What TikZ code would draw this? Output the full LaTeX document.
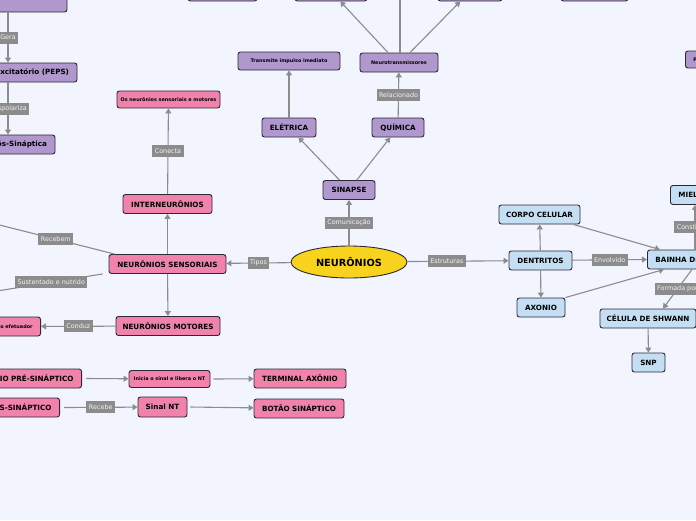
\documentclass[tikz,border=0pt]{standalone}
\usepackage{fontspec}
\newfontfamily\mapfont{DejaVu Sans}
\usepackage{tikz}
\usetikzlibrary{arrows.meta,shapes.geometric}
\usepackage{xcolor}
\definecolor{fundo}{RGB}{242,245,254}
\definecolor{roxo}{RGB}{176,152,206}
\definecolor{rosa}{RGB}{240,130,172}
\definecolor{azul}{RGB}{196,223,244}
\definecolor{ouro}{RGB}{247,211,30}
\definecolor{fio}{RGB}{140,140,140}
\definecolor{borda}{RGB}{45,40,50}

\begin{document}
\begin{tikzpicture}[x=1pt,y=-1pt,
  caixa/.style={draw=borda,line width=0.9pt,rounded corners=2.5pt,minimum height=19pt,
    inner xsep=2pt,inner ysep=2pt,font=\mapfont\bfseries\fontsize{7.2}{8.5}\selectfont},
  caixaroxa/.style={caixa,fill=roxo},
  caixarosa/.style={caixa,fill=rosa},
  caixaazul/.style={caixa,fill=azul},
  miuda/.style={font=\mapfont\bfseries\fontsize{4.9}{5.5}\selectfont},
  rotulo/.style={fill=fio,text=white!90!fio,inner xsep=2.5pt,inner ysep=1.5pt,
    minimum height=12pt,font=\mapfont\fontsize{6.4}{7}\selectfont},
  liga/.style={draw=fio,line width=1.1pt,-{Triangle[width=6pt,length=5pt]}}]
  \useasboundingbox (0,0) rectangle (696,520);
  \fill[fundo] (0,0) rectangle (696,520);
  \clip (0,0) rectangle (696,520);

  % centro
  \node[ellipse,draw=borda,line width=0.9pt,fill=ouro,minimum width=116pt,minimum height=32pt,
    font=\mapfont\bfseries\fontsize{9.8}{11}\selectfont] (neur) at (349,262) {NEURÔNIOS};

  % sinapse
  \node[caixaroxa,minimum width=52pt] (sinapse) at (349,190) {SINAPSE};
  \node[caixaroxa,minimum width=54pt] (eletrica) at (289,127.5) {ELÉTRICA};
  \node[caixaroxa,minimum width=52pt] (quimica) at (398,127.5) {QUÍMICA};
  \node[caixaroxa,miuda,minimum width=102pt,minimum height=18pt] (imediato) at (289,61) {Transmite impulso imediato};
  \node[caixaroxa,miuda,minimum width=78pt] (ntrans) at (399,62.5) {Neurotransmissores};
  \node[caixaroxa,minimum width=69pt] (topoa) at (222.5,-8.5) {};
  \node[caixaroxa,minimum width=72pt] (topob) at (331,-8.5) {};
  \node[caixaroxa,minimum width=64pt] (topoc) at (470,-8.5) {};
  \node[caixaroxa,minimum width=67pt] (topod) at (594.5,-8.5) {};
  \coordinate (topomeio) at (400,-20);
  \node[caixaroxa,miuda,anchor=west,inner xsep=8pt,minimum height=17pt] (pcanto) at (685,59.5) {P};

  \draw[liga] (neur) -- node[rotulo] (lcomunic) {Comunicação} (sinapse);
  \draw[liga] (sinapse) -- (eletrica);
  \draw[liga] (sinapse) -- (quimica);
  \draw[liga] (eletrica) -- (imediato);
  \draw[liga] (quimica) -- node[rotulo] (lrelac) {Relacionado} (ntrans);
  \draw[liga] ([xshift=-11pt]ntrans.north) -- (topob);
  \draw[liga,-] ([xshift=1pt]ntrans.north) -- (topomeio);
  \draw[liga] ([xshift=11pt]ntrans.north) -- (topoc);

  % canto esquerdo
  \node[caixaroxa,minimum width=118pt] (pesq) at (8,2.5) {};
  \node[caixaroxa,text width=122pt,align=right,inner xsep=8pt] (peps) at (8,72.5) {sináptico excitatório (PEPS)};
  \node[caixaroxa,text width=78pt,align=right,inner xsep=8pt] (membrana) at (8,144.5) {Pós-Sináptica};
  \draw[liga] (pesq) -- node[rotulo] (lgera) {Gera} (peps);
  \draw[liga] (peps) -- node[rotulo] (ldesp) {Despolariza} (membrana);

  % tipos
  \node[caixarosa,minimum width=117pt] (sens) at (167.5,264) {NEURÔNIOS SENSORIAIS};
  \node[caixarosa,minimum width=89pt] (inter) at (167.5,204) {INTERNEURÔNIOS};
  \node[caixarosa,miuda,minimum width=103pt,minimum height=17pt] (conecta) at (168.5,99.5) {Os neurônios sensoriais e motores};
  \node[caixarosa,minimum width=104pt] (motores) at (168,326) {NEURÔNIOS MOTORES};
  \node[caixarosa,miuda,text width=60pt,align=right,inner xsep=8pt,anchor=east] (efetuador) at (41,326.5) {Órgão efetuador};
  \coordinate (recebem) at (-40,215);
  \coordinate (sustento) at (-40,297);

  \draw[liga] (neur) -- node[rotulo] (ltipos) {Tipos} (sens);
  \draw[liga] (sens) -- (inter);
  \draw[liga] (inter) -- node[rotulo] (lconecta) {Conecta} (conecta);
  \draw[liga] (sens) -- (motores);
  \draw[liga] (motores) -- node[rotulo] (lconduz) {Conduz} (efetuador);
  \draw[liga] ([xshift=6pt]sens.north west) -- node[rotulo,pos=0.38] (lreceb) {Recebem} (recebem);
  \draw[liga] ([xshift=-6pt]sens.south west) -- node[rotulo,pos=0.36] (lsust) {Sustentado e nutrido} (sustento);

  % linhas de baixo
  \node[caixarosa,text width=114pt,align=right,inner xsep=8pt,anchor=east] (pre) at (82,378.5) {NEURÔNIO PRÉ-SINÁPTICO};
  \node[caixarosa,miuda,minimum width=81pt,minimum height=17pt] (inicia) at (169.5,379) {Inicia o sinal e libera o NT};
  \node[caixarosa,minimum width=92pt] (terminal) at (300,378.5) {TERMINAL AXÔNIO};
  \node[caixarosa,text width=114pt,align=right,inner xsep=8pt,anchor=east] (pos) at (60,407.5) {NEURÔNIO PÓS-SINÁPTICO};
  \node[caixarosa,minimum width=49pt,minimum height=20pt] (sinalnt) at (162.5,407) {Sinal NT};
  \node[caixarosa,minimum width=90pt] (botao) at (299,408.5) {BOTÃO SINÁPTICO};

  \draw[liga] ([xshift=4pt]pre.east) -- (inicia);
  \draw[liga] ([xshift=3pt]inicia.east) -- (terminal);
  \draw[liga] ([xshift=4pt]pos.east) -- node[rotulo] (lrecebe) {Recebe} (sinalnt);
  \draw[liga] ([xshift=3pt]sinalnt.east) -- (botao);

  % estruturas
  \node[caixaazul,minimum width=63pt] (dentritos) at (540.5,260.5) {DENTRITOS};
  \node[caixaazul,minimum width=81pt] (corpo) at (539.5,214.5) {CORPO CELULAR};
  \node[caixaazul,minimum width=48pt] (axonio) at (541,307.5) {AXONIO};
  \node[caixaazul,anchor=west,inner xsep=8pt] (bainha) at (647,259.5) {BAINHA DE MIELINA};
  \node[caixaazul,anchor=west,inner xsep=8pt] (mielina) at (670,195) {MIELINA};
  \node[caixaazul,minimum width=96pt] (celula) at (648,318.5) {CÉLULA DE SHWANN};
  \node[caixaazul,minimum width=33pt] (snp) at (648.5,362.5) {SNP};

  \draw[liga] (neur) -- node[rotulo,pos=0.39] (lestrut) {Estruturas} (dentritos);
  \draw[liga] (dentritos) -- (corpo);
  \draw[liga] (dentritos) -- (axonio);
  \draw[liga] (dentritos) -- node[rotulo] (lenvolv) {Envolvido} (bainha.west);
  \draw[liga] ([xshift=-7pt]corpo.south east) -- ([xshift=13pt]bainha.north west);
  \draw[liga] (axonio.north east) -- ([xshift=17pt]bainha.south west);
  \draw[liga] ([xshift=48pt]bainha.north west) -- node[rotulo] (lconst) {Constituída}
    ([xshift=48pt]bainha.north west |- mielina.south);
  \draw[liga] ([xshift=45pt]bainha.south west) -- node[rotulo] (lformada) {Formada por} ([xshift=15pt]celula.north);
  \draw[liga] (celula) -- (snp);
\end{tikzpicture}
\end{document}
